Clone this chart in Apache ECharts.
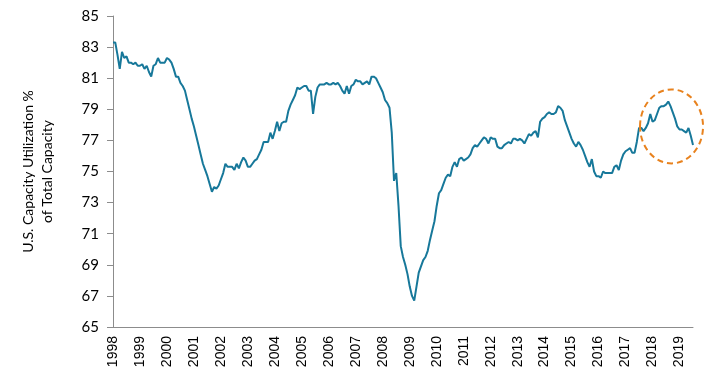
<!DOCTYPE html>
<html>
<head>
<meta charset="utf-8">
<script src="https://cdn.jsdelivr.net/npm/echarts@6/dist/echarts.min.js"></script>
<style>
  html, body { margin: 0; padding: 0; background: #fff; }
  #chart { width: 706px; height: 377px; }
</style>
</head>
<body>
<div id="chart"></div>
<script>
// years shown on the x axis, one category per month starting Jan 1998
let years = [1998, 1999, 2000, 2001, 2002, 2003, 2004, 2005, 2006, 2007, 2008,
  2009, 2010, 2011, 2012, 2013, 2014, 2015, 2016, 2017, 2018, 2019];
let monthsInLastYear = 7;

// capacity utilization %, monthly
let utilization = [
  83.3, 83.3, 82.5, 81.6, 82.7, 82.3, 82.4, 82.0, 82.0, 81.9, 82.0, 81.8,
  81.8, 81.9, 81.6, 81.8, 81.4, 81.1, 81.8, 81.9, 82.3, 82.0, 82.0, 82.0,
  82.3, 82.2, 82.0, 81.6, 81.1, 81.1, 80.7, 80.5, 80.2, 79.6, 79.0, 78.4,
  77.9, 77.3, 76.7, 76.1, 75.5, 75.1, 74.7, 74.2, 73.7, 74.0, 73.9, 74.1,
  74.5, 74.9, 75.5, 75.3, 75.3, 75.3, 75.1, 75.5, 75.2, 75.6, 75.9, 75.7,
  75.3, 75.3, 75.5, 75.7, 75.8, 76.1, 76.4, 76.9, 76.9, 76.9, 77.5, 77.1,
  77.6, 78.2, 77.6, 78.1, 78.2, 78.2, 78.9, 79.3, 79.6, 79.9, 80.4, 80.3,
  80.4, 80.5, 80.5, 80.2, 80.2, 78.7, 79.8, 80.4, 80.6, 80.6, 80.6, 80.7,
  80.6, 80.6, 80.7, 80.6, 80.7, 80.5, 80.2, 80.0, 80.5, 80.0, 80.5, 80.6,
  80.9, 80.8, 80.8, 80.6, 80.7, 80.8, 80.6, 81.1, 81.1, 81.0, 80.7, 80.4,
  80.1, 79.6, 79.4, 79.1, 77.5, 74.4, 74.9, 72.8, 70.2, 69.5, 69.0, 68.4,
  67.6, 67.0, 66.7, 67.6, 68.5, 68.9, 69.3, 69.5, 69.9, 70.6, 71.2, 71.8,
  72.8, 73.6, 73.8, 74.2, 74.6, 74.8, 74.7, 75.3, 75.6, 75.3, 75.8, 75.9,
  75.7, 75.8, 75.9, 76.1, 76.5, 76.7, 76.6, 76.8, 77.0, 77.2, 77.1, 76.8,
  77.2, 77.1, 77.1, 76.6, 76.5, 76.5, 76.7, 76.8, 76.9, 76.8, 77.1, 77.1,
  77.0, 77.1, 77.0, 76.8, 77.1, 77.4, 77.3, 77.5, 77.6, 77.2, 78.2, 78.4,
  78.5, 78.7, 78.8, 78.7, 78.7, 78.8, 79.2, 79.1, 78.9, 78.3, 77.9, 77.5,
  77.1, 76.8, 76.6, 76.9, 76.7, 76.4, 76.0, 75.6, 75.3, 75.8, 75.0, 74.7,
  74.7, 74.6, 75.0, 74.9, 74.9, 74.9, 74.9, 75.3, 75.4, 75.1, 75.7, 76.1,
  76.3, 76.4, 76.5, 76.2, 76.2, 76.9, 77.8, 77.8, 77.6, 77.8, 78.1, 78.7,
  78.2, 78.3, 78.7, 79.1, 79.2, 79.2, 79.3, 79.5, 79.2, 78.8, 78.4, 77.9,
  77.7, 77.7, 77.6, 77.5, 77.8, 77.3, 76.7
];

let yTicks = { min: 65, max: 85, step: 2 };

// build month categories like "1998-01"
let months = [];
years.forEach((y, k) => {
  let n = k === years.length - 1 ? monthsInLastYear : 12;
  for (let m = 1; m <= n; m++) {
    months.push(y + "-" + (m < 10 ? "0" + m : m));
  }
});

let myChart = echarts.init(document.getElementById("chart"));

myChart.setOption({
  animation: false,
  grid: { left: 113, right: 13, top: 16, bottom: 50 },
  xAxis: {
    type: "category",
    data: months,
    boundaryGap: false,
    axisLine: { lineStyle: { color: "#8c8c8c", width: 1 } },
    axisTick: { show: false },
    axisLabel: {
      rotate: 90,
      margin: 9,
      color: "#000",
      fontFamily: "Liberation Sans",
      fontSize: 14,
      interval: (index, value) => value.slice(5) === "01",
      formatter: (value) => value.slice(0, 4),
    },
    splitLine: { show: false },
  },
  yAxis: {
    type: "value",
    min: yTicks.min,
    max: yTicks.max,
    interval: yTicks.step,
    name: "U.S. Capacity Utilization %\nof Total Capacity",
    nameLocation: "middle",
    nameGap: 56,
    nameTextStyle: {
      color: "#000",
      fontFamily: "Lato",
      fontSize: 14,
      lineHeight: 19,
    },
    axisLine: { show: true, lineStyle: { color: "#8c8c8c", width: 1 } },
    axisTick: { show: true, length: 6, lineStyle: { color: "#8c8c8c" } },
    axisLabel: {
      color: "#000",
      fontFamily: "Lato",
      fontSize: 15,
      margin: 14,
    },
    splitLine: { show: false },
  },
  series: [
    {
      type: "line",
      data: utilization,
      symbol: "none",
      lineStyle: { color: "#17789a", width: 2 },
    },
  ],
});

// dashed orange ellipse round the 2018-2019 peak
let c = myChart.convertToPixel({ gridIndex: 0 }, [248, 77.9]);
myChart.setOption({
  graphic: [
    {
      type: "ellipse",
      shape: { cx: c[0] + 1, cy: c[1], rx: 31.5, ry: 37 },
      style: {
        fill: "none",
        stroke: "#e8821e",
        lineWidth: 2,
        lineDash: [6, 4],
      },
      z: 10,
    },
  ],
});
</script>
</body>
</html>
